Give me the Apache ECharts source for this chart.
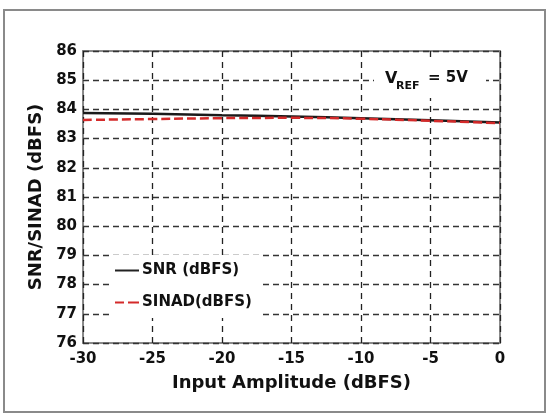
<!DOCTYPE html>
<html>
<head>
<meta charset="utf-8">
<script src="https://cdn.jsdelivr.net/npm/echarts@6/dist/echarts.min.js"></script>
<style>html,body{margin:0;padding:0;background:#fff}#c{width:551px;height:418px}</style>
</head>
<body>
<div id="c"></div>
<script>
var inputAmplitude = [-30, -25, -20, -15, -10, -5, 0];
var snr = [83.88, 83.85, 83.80, 83.76, 83.70, 83.63, 83.55];
var sinad = [83.64, 83.67, 83.70, 83.71, 83.68, 83.61, 83.53];
var xTicks = [-30, -25, -20, -15, -10, -5, 0];
var yTicks = [76, 77, 78, 79, 80, 81, 82, 83, 84, 85, 86];

function pairs(xs, ys) { return xs.map(function (x, i) { return [x, ys[i]]; }); }

var FONT = '"DejaVu Sans", "Liberation Sans", Arial, sans-serif';
var chart = echarts.init(document.getElementById('c'), null, {renderer: 'canvas'});
chart.setOption({
  animation: false,
  backgroundColor: '#fff',
  grid: {left: 83, right: 51, top: 51, bottom: 75, show: true, borderColor: '#8a8a8a', borderWidth: 2, backgroundColor: 'transparent'},
  xAxis: {
    type: 'value', min: xTicks[0], max: xTicks[xTicks.length - 1], interval: 5,
    name: 'Input Amplitude (dBFS)', nameLocation: 'middle', nameGap: 31,
    nameTextStyle: {fontFamily: FONT, fontWeight: 'bold', fontSize: 18, color: '#111'},
    axisLine: {show: false}, axisTick: {show: false},
    axisLabel: {margin: 9, fontFamily: FONT, fontWeight: 'bold', fontSize: 15, color: '#111'},
    splitLine: {show: true, lineStyle: {type: [6, 5], color: '#222', width: 1.3}}
  },
  yAxis: {
    type: 'value', min: yTicks[0], max: yTicks[yTicks.length - 1], interval: 1,
    name: 'SNR/SINAD (dBFS)', nameLocation: 'middle', nameGap: 31, nameRotate: 90,
    nameTextStyle: {fontFamily: FONT, fontWeight: 'bold', fontSize: 18, color: '#111'},
    axisLine: {show: false}, axisTick: {show: false},
    axisLabel: {margin: 6, fontFamily: FONT, fontWeight: 'bold', fontSize: 15, color: '#111'},
    splitLine: {show: true, lineStyle: {type: [6, 4], color: '#333', width: 1.3}}
  },
  legend: {
    orient: 'vertical', left: 111, top: 255, itemGap: 17, itemWidth: 24, itemHeight: 14,
    backgroundColor: '#fff', padding: [8, 10, 8, 4],
    textStyle: {fontFamily: FONT, fontWeight: 'bold', fontSize: 15, color: '#111', padding: [0, 0, 0, -2]},
    data: [
      {name: 'SNR (dBFS)', icon: 'path://M0,6 L24,6 L24,8 L0,8 Z', itemStyle: {color: '#222'}},
      {name: 'SINAD(dBFS)', icon: 'path://M0,6 L9,6 L9,8 L0,8 Z M13,6 L24,6 L24,8 L13,8 Z', itemStyle: {color: '#d42a2a'}}
    ]
  },
  graphic: [
    {type: 'rect', z: 50, shape: {x: 4, y: 10, width: 541, height: 402}, style: {fill: 'none', stroke: '#8a8a8a', lineWidth: 2}},
    {type: 'rect', z: 50, shape: {x: 374, y: 62, width: 112, height: 36}, style: {fill: '#fff'}},
    {type: 'text', z: 51, x: 385, y: 71, style: {text: 'V', font: 'bold 16px ' + FONT, fill: '#111'}},
    {type: 'text', z: 51, x: 396, y: 81, style: {text: 'REF', font: 'bold 11px ' + FONT, fill: '#111'}},
    {type: 'text', z: 51, x: 428, y: 71, style: {text: '= 5V', font: 'bold 15px ' + FONT, fill: '#111'}}
  ],
  series: [
    {name: 'SNR (dBFS)', type: 'line', showSymbol: false, symbol: 'none', smooth: true, z: 3,
     data: pairs(inputAmplitude, snr), lineStyle: {color: '#1a1a1a', width: 2.5}, itemStyle: {color: '#222'}},
    {name: 'SINAD(dBFS)', type: 'line', showSymbol: false, symbol: 'none', smooth: true, z: 4,
     data: pairs(inputAmplitude, sinad), lineStyle: {color: '#d42a2a', width: 2.5, type: [9, 4]}, itemStyle: {color: '#d42a2a'}}
  ]
});
</script>
</body>
</html>
